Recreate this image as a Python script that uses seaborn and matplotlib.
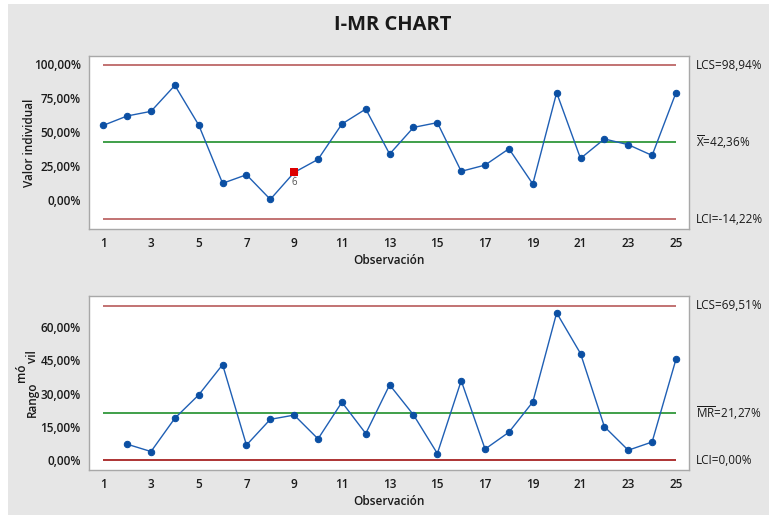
import matplotlib
matplotlib.use("Agg")
import matplotlib.pyplot as plt
from matplotlib.patches import Rectangle
from matplotlib.ticker import FuncFormatter
import numpy as np
import pandas as pd
import seaborn as sns

# Individual observations (%)
obs = list(range(1, 26))
individual = [54.9, 61.8, 65.2, 84.3, 55.1, 12.3, 18.6, 0.5, 20.3, 29.9,
              55.9, 66.9, 33.8, 53.4, 56.9, 21.1, 25.7, 37.7, 11.8, 78.9,
              30.6, 44.9, 40.7, 32.8, 78.9]
# Moving ranges (%), starting at observation 2
mr_obs = list(range(2, 26))
moving_range = [7.2, 3.9, 18.9, 29.4, 43.0, 6.8, 18.4, 20.3, 9.6, 26.1,
                12.0, 33.9, 20.4, 3.0, 35.8, 5.0, 12.6, 26.2, 66.3, 48.0,
                15.1, 4.5, 8.2, 45.4]
# Control limits
i_ucl, i_center, i_lcl = 98.94, 42.36, -14.22
mr_ucl, mr_center, mr_lcl = 69.51, 21.27, 0.00
# Flagged point (test 6 failure) and its label
flag_obs = 9
flag_test = "6"

i_ticks = [0, 25, 50, 75, 100]
mr_ticks = [0, 15, 30, 45, 60]
x_ticks = list(range(1, 26, 2))

sns.set_theme(style="white")
plt.rcParams["font.family"] = ["Open Sans", "DejaVu Sans"]
plt.rcParams["mathtext.fontset"] = "custom"
plt.rcParams["mathtext.rm"] = "Open Sans"
plt.rcParams["mathtext.it"] = "Open Sans:italic"
plt.rcParams["mathtext.bf"] = "Open Sans:bold"

BG = "#e6e6e6"
LINE_BLUE = "#1f5fb4"
MARK_BLUE = "#0b4fa3"
UCL_RED = "#b85a5a"
LCL_RED = "#a01010"
GREEN = "#1f8f2a"
SPINE = "#a8a8a8"
TXT = "#1a1a1a"

fig = plt.figure(figsize=(7.69, 5.15), dpi=100, facecolor="white")
fig.patches.append(Rectangle((8 / 769, 0), 1 - 8 / 769, 1 - 4 / 515,
                             transform=fig.transFigure, facecolor=BG,
                             edgecolor="none", zorder=-10))

ax1 = fig.add_axes([0.1157, 0.5553, 0.7807, 0.3360])
ax2 = fig.add_axes([0.1157, 0.0874, 0.7807, 0.3379])

pct = FuncFormatter(lambda v, p: f"{v:.2f}".replace(".", ",") + "%")


def style_axes(ax, yticks, ylim):
    ax.set_facecolor("white")
    ax.set_xlim(0.4, 25.56)
    ax.set_ylim(*ylim)
    ax.set_xticks(x_ticks)
    ax.set_yticks(yticks)
    ax.yaxis.set_major_formatter(pct)
    for s in ax.spines.values():
        s.set_color(SPINE)
        s.set_linewidth(1.0)
    ax.tick_params(axis="both", which="major", direction="out", length=4,
                   width=0.8, color=SPINE, labelsize=8.5, labelcolor=TXT,
                   pad=2)
    for lab in ax.get_xticklabels() + ax.get_yticklabels():
        lab.set_fontweight("semibold")
    ax.set_xlabel("Observación", fontsize=8.5, fontweight="semibold",
                  color=TXT, labelpad=2)
    ax.xaxis.set_label_coords(0.5, -0.145)
    ax.grid(False)


def limit_lines(ax, ucl, center, lcl):
    ax.hlines(ucl, 1, 25, color=UCL_RED, lw=1.2, zorder=2)
    ax.hlines(center, 1, 25, color=GREEN, lw=1.2, zorder=2)
    ax.hlines(lcl, 1, 25, color=LCL_RED if lcl == 0 else UCL_RED, lw=1.2, zorder=2)


# Individuals chart
df_i = pd.DataFrame({"obs": obs, "value": individual})
limit_lines(ax1, i_ucl, i_center, i_lcl)
sns.lineplot(data=df_i, x="obs", y="value", ax=ax1, color=LINE_BLUE, lw=1.0,
             marker="o", markersize=4.6, markerfacecolor=MARK_BLUE,
             markeredgecolor=MARK_BLUE, zorder=3)
flag_val = individual[obs.index(flag_obs)]
ax1.scatter([flag_obs], [flag_val], marker="s", s=26, color="#dd0000",
            zorder=4, linewidths=0)
ax1.annotate(flag_test, (flag_obs, flag_val), xytext=(0, -3),
             textcoords="offset points", ha="center", va="top",
             fontsize=7, color="#555555")
style_axes(ax1, i_ticks, (-21.3, 105.9))
ax1.set_ylabel("Valor individual", fontsize=8.5, fontweight="semibold",
               color=TXT)
ax1.yaxis.set_label_coords(-0.088, 0.5)

# Moving range chart
df_mr = pd.DataFrame({"obs": mr_obs, "value": moving_range})
limit_lines(ax2, mr_ucl, mr_center, mr_lcl)
sns.lineplot(data=df_mr, x="obs", y="value", ax=ax2, color=LINE_BLUE, lw=1.0,
             marker="o", markersize=4.6, markerfacecolor=MARK_BLUE,
             markeredgecolor=MARK_BLUE, zorder=3)
style_axes(ax2, mr_ticks, (-4.4, 73.9))
ax2.set_ylabel("")
# "Rango móvil" label, split across three pieces
lab_kw = dict(rotation=90, fontsize=8.5, fontweight="semibold", color=TXT,
              ha="center", transform=fig.transFigure)
fig.text(32 / 769, 1 - 399 / 515, "Rango", va="center", **lab_kw)
fig.text(21 / 769, 1 - 373 / 515, "mó", va="center", **lab_kw)
fig.text(33 / 769, 1 - 357 / 515, "vil", va="center", **lab_kw)

# Limit labels on the right
rx = 696 / 769


def right_label(ax, y, text):
    ax.annotate(text, xy=(rx, y), xycoords=("figure fraction", "data"),
                va="center", ha="left", fontsize=8.5, color=TXT,
                annotation_clip=False)


def fmt(v):
    return f"{v:.2f}".replace(".", ",") + "%"


right_label(ax1, i_ucl, "LCS=" + fmt(i_ucl))
right_label(ax1, i_center, r"$\overline{\mathrm{X}}$=" + fmt(i_center))
right_label(ax1, i_lcl, "LCI=" + fmt(i_lcl))
right_label(ax2, mr_ucl, "LCS=" + fmt(mr_ucl))
right_label(ax2, mr_center, r"$\overline{\mathrm{MR}}$=" + fmt(mr_center))
right_label(ax2, mr_lcl, "LCI=" + fmt(mr_lcl))

fig.text(393 / 769, 1 - 25 / 515, "I-MR CHART", ha="center", va="center",
         fontsize=14.5, fontweight="bold", color=TXT)

fig.savefig("out.png", dpi=100, facecolor=fig.get_facecolor())
